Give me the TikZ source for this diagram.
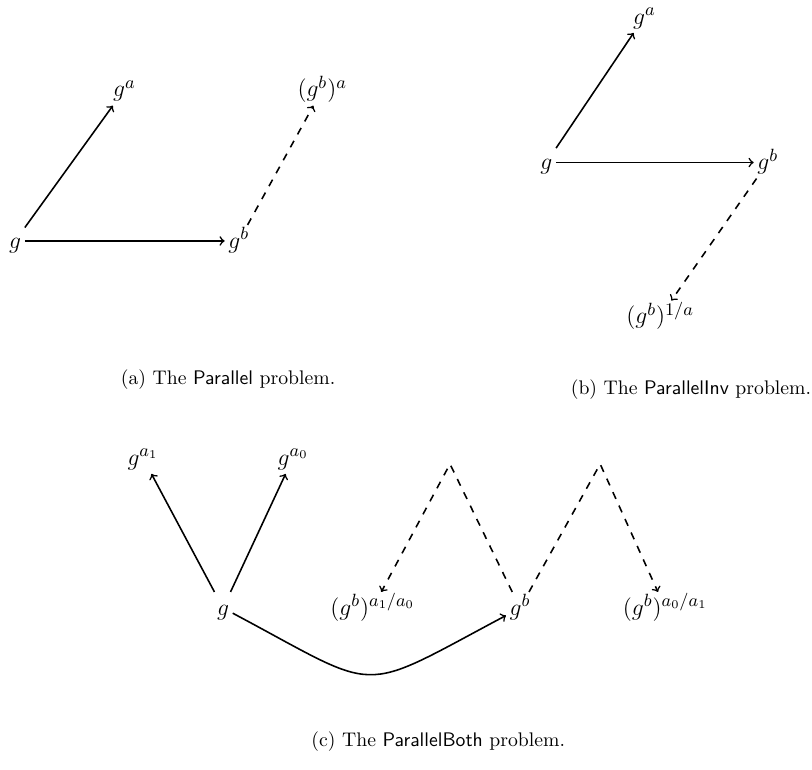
\documentclass[tikz,border=0pt]{standalone}
\usepackage{amsmath}
\usepackage{tikz}

\begin{document}
\begin{tikzpicture}[elem/.style={font=\fontsize{12.5}{15}\selectfont, text height=2.3ex, text depth=.6ex, inner sep=1.5pt},
  every path/.style={line width=0.8pt}, dsh/.style={dash pattern=on 3.75pt off 3.75pt}]
  \useasboundingbox (0,0) rectangle (14.49,-13.73);
  % (a)
  \node[elem] (ag) at (0.27,-4.30) {$g$};
  \node[elem] (aga) at (2.22,-1.60) {$g^a$};
  \node[elem] (agb) at (4.26,-4.30) {$g^b$};
  \node[elem] (agba) at (5.75,-1.60) {$(g^b)^a$};
  \draw[->] (ag) -- (aga);
  \draw[->] (ag) -- (agb);
  \draw[->, dsh] (agb) -- (agba);
  \node (capa) at (4.07,-6.78) {(a) The \textsf{Parallel} problem.};
  % (b)
  \node[elem] (bg) at (9.75,-2.90) {$g$};
  \node[elem] (bga) at (11.50,-0.30) {$g^a$};
  \node[elem] (bgb) at (13.70,-2.90) {$g^b$};
  \node[elem] (bgbi) at (11.78,-5.65) {$(g^b)^{1/a}$};
  \draw[->] (bg) -- (bga);
  \draw[->] (bg) -- (bgb);
  \draw[->, dsh] (bgb) -- (bgbi);
  \node (capb) at (12.33,-6.96) {(b) The \textsf{ParallelInv} problem.};
  % (c)
  \node[elem] (cg) at (3.98,-10.85) {$g$};
  \node[elem] (cga1) at (2.55,-8.17) {$g^{a_1}$};
  \node[elem] (cga0) at (5.23,-8.17) {$g^{a_0}$};
  \node[elem] (cgb) at (9.28,-10.85) {$g^b$};
  \node[elem] (cgbl) at (6.65,-10.85) {$(g^b)^{a_1/a_0}$};
  \node[elem] (cgbr) at (11.87,-10.85) {$(g^b)^{a_0/a_1}$};
  \coordinate (peakl) at (8.03,-8.28);
  \coordinate (peakr) at (10.71,-8.28);
  \draw[->] (cg) -- (cga1);
  \draw[->] (cg) -- (cga0);
  \draw[->] (cg) to[out=-28, in=208, looseness=1.6] (cgb);
  \draw[->, dsh] (cgb) -- (peakl) -- (cgbl);
  \draw[->, dsh] (cgb) -- (peakr) -- (cgbr);
  \node (capc) at (7.82,-13.24) {(c) The \textsf{ParallelBoth} problem.};
\end{tikzpicture}
\end{document}
